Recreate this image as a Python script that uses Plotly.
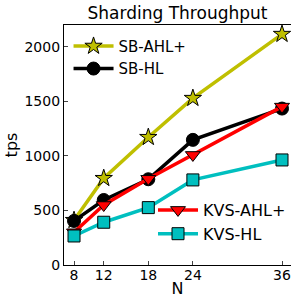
import plotly.graph_objects as go

N = [8, 12, 18, 24, 36]
sb_ahl = [410, 795, 1171, 1529, 2116]
sb_hl = [404, 596, 786, 1147, 1434]
kvs_ahl = [300, 550, 790, 1009, 1452]
kvs_hl = [266, 392, 526, 780, 963]
x_ticks = [8, 12, 18, 24, 36]
y_ticks = [0, 500, 1000, 1500, 2000]

FONT = "DejaVu Sans"
fig = go.Figure()

def add(name, y, color, symbol, size, legend):
    fig.add_trace(go.Scatter(
        x=N, y=y, name=name, mode="lines+markers",
        line=dict(color=color, width=3.5),
        marker=dict(symbol=symbol, size=size, color=color,
                    line=dict(color="black", width=1)),
        legend=legend, cliponaxis=False,
    ))

add("SB-AHL+", sb_ahl, "#bfbf00", "star", 13, "legend")
add("SB-HL", sb_hl, "black", "circle", 13, "legend")
add("KVS-AHL+", kvs_ahl, "#ff0000", "triangle-down", 13, "legend2")
add("KVS-HL", kvs_hl, "#00bfbf", "square", 12, "legend2")

fig.update_layout(
    width=291, height=299,
    margin=dict(l=64, r=0, t=25, b=34),
    paper_bgcolor="white", plot_bgcolor="white",
    font=dict(family=FONT, size=13, color="black"),
    title=dict(text="Sharding Throughput", x=0.61, xanchor="center",
               y=0.955, yanchor="middle", font=dict(size=17)),
    xaxis=dict(range=[6.65, 37.21], tickvals=x_ticks, ticks="inside",
               ticklen=4, showline=True, linecolor="black", linewidth=1.2,
               mirror=True, showgrid=False, zeroline=False,
               ticklabeloverflow="allow", ticklabelstandoff=-3,
               title=dict(text="N", standoff=0), tickfont=dict(size=14)),
    yaxis=dict(range=[0, 2200], tickvals=y_ticks, ticks="inside",
               ticklen=4, showline=True, linecolor="black", linewidth=1.2,
               mirror=False, showgrid=False, zeroline=False,
               title=dict(text="tps", standoff=2), tickfont=dict(size=14)),
    legend=dict(x=0.02, y=0.98, xanchor="left", yanchor="top",
                bgcolor="rgba(0,0,0,0)", font=dict(size=15),
                itemwidth=40, tracegroupgap=0),
    legend2=dict(x=1.0, y=0.30, xanchor="right", yanchor="top",
                 bgcolor="rgba(0,0,0,0)", font=dict(size=16),
                 itemwidth=40, tracegroupgap=0),
)

fig.write_html("out.html", config={"displayModeBar": False},
               post_script="document.body.style.margin='0';document.body.style.overflow='hidden';")
